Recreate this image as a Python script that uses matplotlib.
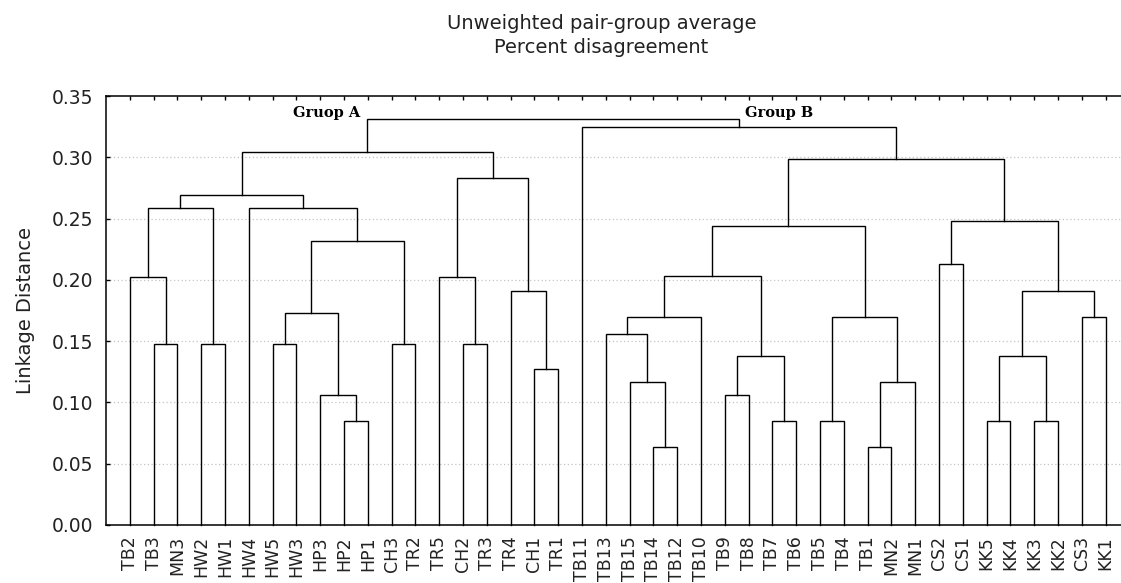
import matplotlib
matplotlib.use("Agg")
import matplotlib.pyplot as plt

# ---------------- data ----------------
leaves = ["TB2", "TB3", "MN3", "HW2", "HW1", "HW4", "HW5", "HW3", "HP3", "HP2",
          "HP1", "CH3", "TR2", "TR5", "CH2", "TR3", "TR4", "CH1", "TR1", "TB11",
          "TB13", "TB15", "TB14", "TB12", "TB10", "TB9", "TB8", "TB7", "TB6",
          "TB5", "TB4", "TB1", "MN2", "MN1", "CS2", "CS1", "KK5", "KK4", "KK3",
          "KK2", "CS3", "KK1"]

# merges: (node id, left child, right child)
merge_nodes = [
    ("c1", "TB3", "MN3"), ("c2", "TB2", "c1"), ("c3", "HW2", "HW1"),
    ("c4", "c2", "c3"), ("c5", "HW5", "HW3"), ("c6", "HP2", "HP1"),
    ("c7", "HP3", "c6"), ("c8", "c5", "c7"), ("c9", "CH3", "TR2"),
    ("c10", "c8", "c9"), ("c11", "HW4", "c10"), ("c12", "c4", "c11"),
    ("c13", "CH2", "TR3"), ("c14", "TR5", "c13"), ("c15", "CH1", "TR1"),
    ("c16", "TR4", "c15"), ("c17", "c14", "c16"), ("c18", "c12", "c17"),
    ("c19", "TB14", "TB12"), ("c20", "TB15", "c19"), ("c21", "TB13", "c20"),
    ("c22", "c21", "TB10"), ("c23", "TB9", "TB8"), ("c24", "TB7", "TB6"),
    ("c25", "c23", "c24"), ("c26", "c22", "c25"), ("c27", "TB5", "TB4"),
    ("c28", "TB1", "MN2"), ("c29", "c28", "MN1"), ("c30", "c27", "c29"),
    ("c31", "c26", "c30"), ("c32", "CS2", "CS1"), ("c33", "KK5", "KK4"),
    ("c34", "KK3", "KK2"), ("c35", "c33", "c34"), ("c36", "CS3", "KK1"),
    ("c37", "c35", "c36"), ("c38", "c32", "c37"), ("c39", "c31", "c38"),
    ("c40", "TB11", "c39"), ("c41", "c18", "c40"),
]
merge_heights = [
    0.148, 0.202, 0.148, 0.259, 0.148, 0.085, 0.106, 0.173, 0.148, 0.232,
    0.259, 0.269, 0.148, 0.202, 0.127, 0.191, 0.283, 0.304,
    0.064, 0.117, 0.156, 0.170, 0.106, 0.085, 0.138, 0.203, 0.085, 0.064,
    0.117, 0.170, 0.244, 0.213, 0.085, 0.085, 0.138, 0.170, 0.191, 0.248,
    0.299, 0.325, 0.331,
]
yticks = [0.00, 0.05, 0.10, 0.15, 0.20, 0.25, 0.30, 0.35]
group_labels = ["Gruop A", "Group B"]
title_lines = ["Unweighted pair-group average", "Percent disagreement"]
ylabel = "Linkage Distance"

# ---------------- figure ----------------
W, H = 1121, 583
fig = plt.figure(figsize=(W / 100, H / 100), dpi=100)
ax = fig.add_axes([106 / W, 58 / H, 1023.4 / W, 429 / H])

pos = {name: i + 1 for i, name in enumerate(leaves)}
hgt = {name: 0.0 for name in leaves}
for (nid, a, b), h in zip(merge_nodes, merge_heights):
    xa, xb = pos[a], pos[b]
    ax.plot([xa, xa, xb, xb], [hgt[a], h, h, hgt[b]], color="black",
            lw=1.0, solid_joinstyle="miter", clip_on=False, zorder=3)
    pos[nid] = (xa + xb) / 2
    hgt[nid] = h

ax.set_xlim(0, len(leaves) + 1)
ax.set_ylim(0, 0.35)
ax.set_yticks(yticks)
ax.set_yticklabels([f"{v:.2f}" for v in yticks])
ax.set_xticks(range(1, len(leaves) + 1))
ax.set_xticklabels(leaves, rotation=90)

for v in yticks[1:-1]:
    ax.axhline(v, color="#c4c4c4", lw=0.9, ls=(0, (1, 2)), zorder=1)

ax.tick_params(axis="y", direction="in", length=3, width=1, labelsize=13.5,
               pad=9, colors="black", labelcolor="#222222")
ax.tick_params(axis="x", which="both", direction="in", length=3, width=1,
               bottom=False, top=True, labelbottom=True, labelsize=12.5,
               pad=8, labelcolor="#222222")
for s in ["left", "top", "bottom"]:
    ax.spines[s].set_linewidth(1.1)
ax.spines["right"].set_visible(False)

ax.set_ylabel(ylabel, fontsize=14, color="#222222", labelpad=12)

fig.text(601.6 / W, 1 - 29 / H, title_lines[0], ha="center", va="baseline",
         fontsize=14, color="#222222")
fig.text(601.6 / W, 1 - 53 / H, title_lines[1], ha="center", va="baseline",
         fontsize=14, color="#222222")

ax.text(7.84, 0.3326, group_labels[0], family="DejaVu Serif",
        fontweight="bold", fontsize=10.5, ha="left", va="baseline")
ax.text(26.84, 0.3326, group_labels[1], family="DejaVu Serif",
        fontweight="bold", fontsize=10.5, ha="left", va="baseline")

fig.savefig("out.png", dpi=100)
